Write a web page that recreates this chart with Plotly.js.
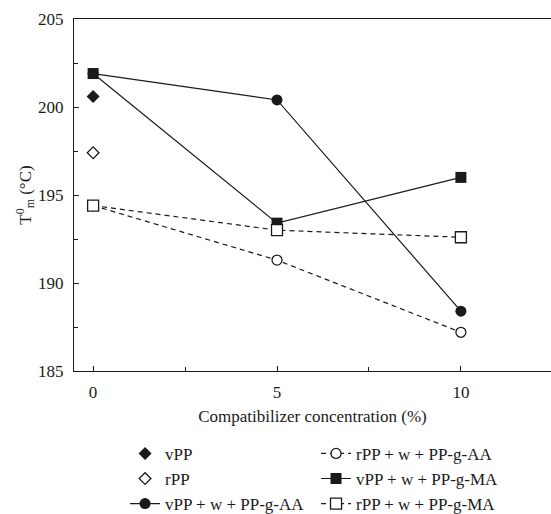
<!DOCTYPE html>
<html>
<head>
<meta charset="utf-8">
<script src="https://cdn.plot.ly/plotly-3.0.1.min.js"></script>
<style>body{margin:0;padding:0;background:#fff;} #chart{width:551px;height:514px;}</style>
</head>
<body>
<div id="chart"></div>
<script>
// Compatibilizer concentration (%)
const conc = [0, 5, 10];
const concVirgin = [0];

// Tm0 values (°C)
const vPP = [200.6];
const rPP = [197.4];
const vPP_AA = [201.9, 200.4, 188.4];
const rPP_AA = [194.4, 191.3, 187.2];
const vPP_MA = [201.9, 193.4, 196.0];
const rPP_MA = [194.4, 193.0, 192.6];

const names = {
  vPP: 'vPP',
  rPP: 'rPP',
  vAA: 'vPP + w + PP-g-AA',
  rAA: 'rPP + w + PP-g-AA',
  vMA: 'vPP + w + PP-g-MA',
  rMA: 'rPP + w + PP-g-MA'
};

const ink = '#1a1a1a';
const FONT = 'Liberation Serif, Times New Roman, serif';
const FS = 17;

const traces = [
  {x: conc, y: vPP_AA, name: names.vAA, legendrank: 5, mode: 'lines+markers',
   line: {color: ink, width: 1.2},
   marker: {symbol: 'circle', size: 11, color: ink}},
  {x: conc, y: vPP_MA, name: names.vMA, legendrank: 4, mode: 'lines+markers',
   line: {color: ink, width: 1.2},
   marker: {symbol: 'square', size: 11, color: ink}},
  {x: conc, y: rPP_AA, name: names.rAA, legendrank: 2, mode: 'lines+markers',
   line: {color: ink, width: 1.2, dash: '5px,4px'},
   marker: {symbol: 'circle', size: 10, color: '#fff', line: {color: ink, width: 1.3}}},
  {x: conc, y: rPP_MA, name: names.rMA, legendrank: 6, mode: 'lines+markers',
   line: {color: ink, width: 1.2, dash: '5px,4px'},
   marker: {symbol: 'square', size: 11, color: '#fff', line: {color: ink, width: 1.3}}},
  {x: concVirgin, y: vPP, name: names.vPP, legendrank: 1, mode: 'markers',
   marker: {symbol: 'diamond', size: 10, color: ink}},
  {x: concVirgin, y: rPP, name: names.rPP, legendrank: 3, mode: 'markers',
   marker: {symbol: 'diamond', size: 9, color: '#fff', line: {color: ink, width: 1.3}}}
];

const layout = {
  width: 551, height: 514,
  margin: {l: 74, r: 0, t: 19, b: 143},
  paper_bgcolor: '#fff', plot_bgcolor: '#fff',
  font: {family: FONT, size: FS, color: ink},
  showlegend: true,
  legend: {
    orientation: 'h', xref: 'paper', x: 0.107, xanchor: 'left',
    yref: 'container', y: 0.152, yanchor: 'top',
    entrywidth: 146, entrywidthmode: 'pixels',
    font: {family: FONT, size: FS, color: ink},
    bgcolor: 'rgba(0,0,0,0)', traceorder: 'normal'
  },
  xaxis: {
    range: [-0.52, 12.45], tickvals: [0, 5, 10], ticktext: ['0', '5', '10'],
    ticks: 'inside', ticklen: 5, tickcolor: ink, tickwidth: 1,
    minor: {tickvals: [2.5, 7.5], ticks: 'inside', ticklen: 4, tickcolor: ink},
    showline: true, linecolor: ink, linewidth: 1, mirror: true,
    showgrid: false, zeroline: false, ticklabelstandoff: 6,
    title: {text: 'Compatibilizer concentration (%)', font: {family: FONT, size: FS, color: ink}, standoff: 8}
  },
  yaxis: {
    range: [185, 205], dtick: 5, tick0: 185,
    ticks: 'inside', ticklen: 5, tickcolor: ink, tickwidth: 1,
    minor: {dtick: 2.5, ticks: 'inside', ticklen: 4, tickcolor: ink},
    showline: true, linecolor: ink, linewidth: 1, mirror: false,
    showgrid: false, zeroline: false, ticklabelstandoff: 6,
    title: {text: 'T<sup>0</sup><sub>m</sub> (°C)', font: {family: FONT, size: FS, color: ink}, standoff: 2}
  }
};

Plotly.newPlot('chart', traces, layout, {staticPlot: true, displayModeBar: false});
</script>
</body>
</html>
